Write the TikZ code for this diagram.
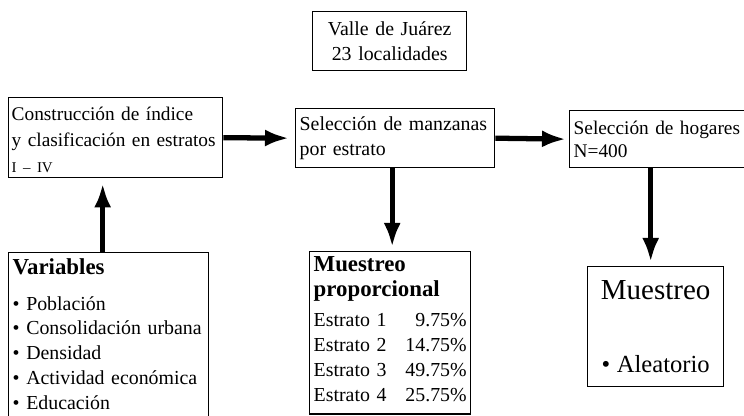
\documentclass[tikz,border=0pt]{standalone}
\usepackage{fontspec}
\setmainfont{Liberation Serif}
\usetikzlibrary{shapes,arrows.meta}

\begin{document}
\begin{tikzpicture}[
	caja/.style={draw, thick, rectangle, anchor=north west, inner sep=0.08cm, align=left, font=\fontsize{11.3}{14.2}\selectfont},
	flecha/.style={line width=3pt, -{Latex[length=0.48cm,width=0.34cm]}}]
	\useasboundingbox (0,0) rectangle (14.88,-8.32);
	\clip (0,0) rectangle (14.88,-8.32);

	\node[caja, align=center, text width=2.92cm, minimum height=1.18cm] (valle) at (6.24,-0.22) {Valle de Juárez\\ 23 localidades};

	\node[caja, text width=4.16cm, inner xsep=0.06cm, minimum height=1.60cm, font=\fontsize{11}{14.6}\selectfont] (indice) at (0.16,-1.94) {\rule{0pt}{10pt}Construcción de índice\\ y clasificación en estratos\\ {\fontsize{8.5}{10}\selectfont I -- IV}};
	\node[caja, text width=3.82cm, minimum height=1.18cm] (manzanas) at (5.90,-2.16) {Selección de manzanas\\ por estrato};
	\node[caja, text width=3.66cm, minimum height=1.14cm, font=\fontsize{11}{13}\selectfont] (hogares) at (11.38,-2.20) {Selección de hogares\\ N=400};

	\node[caja, text width=3.84cm, inner ysep=0.12cm] (variables) at (0.16,-5.04) {{\fontsize{13}{15}\selectfont\bfseries Variables}\\[6pt]
		\textbullet{} Población\\
		\textbullet{} Consolidación urbana\\
		\textbullet{} Densidad\\
		\textbullet{} Actividad económica\\
		\textbullet{} Educación\\
		\mbox{}};
	\node[caja, text width=3.06cm, inner ysep=0.1cm] (proporcional) at (6.18,-5.02) {{\fontsize{13}{15}\selectfont\bfseries Muestreo\\ proporcional}\\[3pt]
		\begin{tabular*}{\linewidth}[t]{@{}l@{\extracolsep{\fill}}r@{}}
			Estrato 1 & 9.75\%\\
			Estrato 2 & 14.75\%\\
			Estrato 3 & 49.75\%\\
			Estrato 4 & 25.75\%
		\end{tabular*}};
	\node[caja, align=center, text width=2.56cm, minimum height=2.40cm] (muestreo) at (11.74,-5.32) {{\fontsize{16.5}{18}\selectfont Muestreo}\\[27.8pt]
		{\fontsize{14}{16}\selectfont\textbullet{} Aleatorio}};

	\draw[flecha, shorten >=0.12cm] (indice.east) -- (manzanas.west);
	\draw[flecha, shorten >=0.06cm] (manzanas.east) -- (hogares.west);
	\draw[flecha, shorten >=0.08cm] ([xshift=-0.06cm]manzanas.south) -- ([xshift=-0.06cm]manzanas.south |- proporcional.north);
	\draw[flecha, shorten >=0.08cm] ([xshift=-0.1cm]muestreo.north |- hogares.south) -- ([xshift=-0.1cm]muestreo.north);
	\draw[flecha, shorten >=0.1cm] ([xshift=-0.12cm]variables.north) -- ([xshift=-0.12cm]variables.north |- indice.south);
\end{tikzpicture}
\end{document}
